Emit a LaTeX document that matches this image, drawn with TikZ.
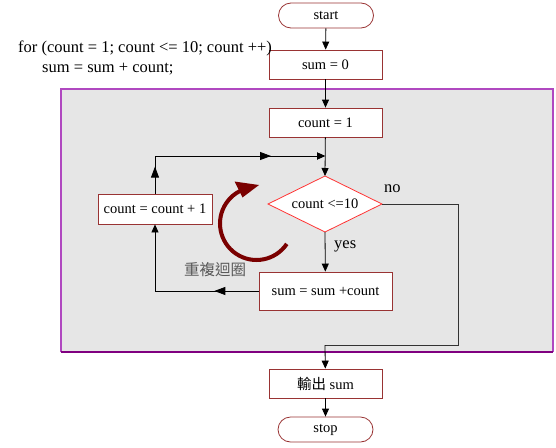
\documentclass[tikz,border=0pt]{standalone}
\usepackage{fontspec}
\setmainfont{Liberation Serif}
\newfontfamily\cjk{Noto Sans CJK TC}
\usetikzlibrary{arrows.meta,decorations.markings}
\definecolor{boxred}{HTML}{993333}
\definecolor{diared}{HTML}{FF3333}
\definecolor{loopred}{HTML}{7A0000}
\definecolor{framepurple}{HTML}{B048C0}
\definecolor{framedark}{HTML}{800080}
\definecolor{bggray}{HTML}{E6E6E6}
\tikzset{
  procbox/.style={draw=boxred, line width=0.8pt, fill=white, minimum width=113pt, minimum height=29pt, inner sep=0pt, font=\fontsize{14.5}{17}\selectfont},
  termbox/.style={draw=boxred, line width=0.8pt, fill=white, rounded corners=12.5pt, minimum width=95pt, minimum height=25pt, inner sep=0pt, font=\fontsize{14.5}{17}\selectfont},
  conn/.style={draw=black, line width=0.8pt},
  arr/.style={conn, -{Triangle[length=8pt,width=7pt]}},
  midarrow/.style={postaction={decorate}, decoration={markings, mark=at position #1 with {\arrow{Triangle[length=11pt,width=8pt]}}}},
  bigtext/.style={font=\fontsize{16.5}{19}\selectfont, inner sep=0pt},
}
\begin{document}
\begin{tikzpicture}[x=1pt,y=-1pt]
\useasboundingbox (0,0) rectangle (556,447);
% loop frame
\fill[bggray] (61,89) rectangle (553,352);
\draw[framepurple, line width=1.3pt] (61,352) -- (61,89) -- (553,89) -- (553,352);
\draw[framedark, line width=1.3pt] (61,352) -- (553,352);

% nodes
\node[termbox] (start) at (326,15.5) {start};
\node[procbox] (sum0) at (325.5,64.5) {sum = 0};
\node[procbox] (c1) at (325.5,122.5) {count = 1};
\draw[diared, line width=0.8pt, fill=white] (325,176) -- (382,204) -- (325,232) -- (268,204) -- cycle;
\node[inner sep=0pt, font=\fontsize{14.5}{17}\selectfont] (dec) at (325,204) {count <=10};
\coordinate (dN) at (325,176);
\coordinate (dS) at (325,232);
\coordinate (dE) at (382,204);
\node[procbox, minimum width=114pt, minimum height=30pt] (cc) at (155,209) {count = count + 1};
\node[procbox, minimum width=133pt, minimum height=38pt] (sc) at (325.5,291) {sum = sum +count};
\node[procbox] (out) at (325.5,383.5) {{\cjk 輸出} sum};
\node[termbox] (stop) at (325.5,429.5) {stop};

% code text
\node[bigtext, anchor=base west] (code1) at (18,52) {for (count = 1; count <= 10; count ++)};
\node[bigtext, anchor=base west] (code2) at (42,72) {sum = sum + count;};

% labels
\node[bigtext, anchor=base west] (no) at (384,192) {no};
\node[bigtext, anchor=base west] (yes) at (334,248) {yes};
\node[inner sep=0pt, text=black!65, font=\cjk\fontsize{15.5}{18}\selectfont] (rep) at (215,269.5) {重複迴圈};

% connectors
\coordinate (j1) at (325,156);
\coordinate (lt) at (155,156);
\coordinate (lb) at (155,291);
\coordinate (r1) at (458,204);
\coordinate (r2) at (458,345);
\coordinate (r3) at (325,345);
\draw[arr] (start) -- (sum0);
\draw[arr] (sum0) -- (c1);
\draw[arr] (c1) -- (dN);
\draw[arr] (dS) -- (sc);
\draw[arr, midarrow=0.13] (cc.north) -- (lt) -- (j1);
\draw[arr, midarrow=0.74] (cc.north) -- (lt) -- (j1);
\draw[arr, midarrow=0.26] (sc.west) -- (lb) -- (cc.south);
\draw[conn, black!80] (dE) -- (r1) -- (r2) -- (r3);
\draw[arr] (r3) -- (out);
\draw[arr] (out) -- (stop);

% circular arrow
\draw[loopred, line width=4pt] (256.5,223.5) ++(34:36.5) arc[start angle=34, end angle=244, radius=36.5];
\fill[loopred] (259,185) -- (234.5,181.5) -- (242.5,197.5) -- cycle;
\end{tikzpicture}
\end{document}
